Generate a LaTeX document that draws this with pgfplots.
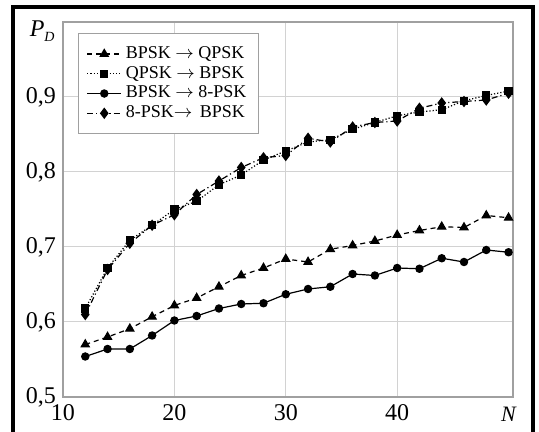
\documentclass[border=0pt]{standalone}
\usepackage{fontspec}
\setmainfont{Liberation Serif}
\usepackage{pgfplots}
\pgfplotsset{compat=1.18}
\definecolor{axgray}{HTML}{A0A0A0}
\definecolor{gridgray}{HTML}{D2D2D2}

\begin{document}
\begin{tikzpicture}
\begin{axis}[
  width=225pt, height=187.5pt, scale only axis,
  xmin=10, xmax=50.4, ymin=0.5, ymax=1.0,
  xtick={10,20,30,40}, ytick={0.5,0.6,0.7,0.8,0.9},
  major tick length=0pt,
  axis line style={axgray, line width=0.7pt},
  grid=major, grid style={gridgray, line width=0.5pt},
  tick label style={font=\fontsize{12}{13}\selectfont},
  /pgf/number format/.cd, use comma, fixed, fixed zerofill, precision=1, assume math mode=true,
  /pgfplots/.cd,
  xticklabel={\pgfmathprintnumber[precision=0,fixed zerofill=false]{\tick}},
  clip=false,
  legend cell align=left,
  legend style={at={(rel axis cs:0,1)}, anchor=north west, xshift=7.5pt, yshift=-5.5pt,
    draw=axgray, line width=0.6pt, font=\fontsize{9}{10}\selectfont,
    row sep=-1.6pt, inner xsep=4pt, inner ysep=4.5pt},
]
\addplot[black, line width=0.6pt, dash pattern=on 2.5pt off 2pt, mark=triangle*, mark size=2.3pt, mark options={solid}]
  coordinates {(12,0.570) (14,0.580) (16,0.591) (18,0.607) (20,0.622) (22,0.632) (24,0.647)
               (26,0.662) (28,0.672) (30,0.684) (32,0.680) (34,0.697) (36,0.702) (38,0.708)
               (40,0.716) (42,0.722) (44,0.727) (46,0.726) (48,0.742) (50,0.739)};
\addlegendentry{BPSK $\rightarrow$ QPSK}
\addplot[black, line width=0.6pt, densely dotted, mark=square*, mark size=1.8pt, mark options={solid}]
  coordinates {(12,0.618) (14,0.672) (16,0.709) (18,0.729) (20,0.750) (22,0.761) (24,0.783)
               (26,0.796) (28,0.816) (30,0.828) (32,0.840) (34,0.843) (36,0.857) (38,0.866)
               (40,0.875) (42,0.880) (44,0.883) (46,0.895) (48,0.902) (50,0.908)};
\addlegendentry{QPSK $\rightarrow$ BPSK}
\addplot[black, line width=0.6pt, mark=*, mark size=1.8pt]
  coordinates {(12,0.554) (14,0.564) (16,0.564) (18,0.582) (20,0.602) (22,0.608) (24,0.618)
               (26,0.624) (28,0.625) (30,0.637) (32,0.644) (34,0.647) (36,0.664) (38,0.662)
               (40,0.672) (42,0.671) (44,0.685) (46,0.680) (48,0.696) (50,0.693)};
\addlegendentry{BPSK $\rightarrow$ 8-PSK}
\addplot[black, line width=0.6pt, dash pattern=on 3pt off 1.5pt on 0.6pt off 1.5pt, mark=diamond*, mark size=2.4pt, mark options={solid}]
  coordinates {(12,0.610) (14,0.670) (16,0.705) (18,0.729) (20,0.743) (22,0.770) (24,0.788)
               (26,0.806) (28,0.819) (30,0.822) (32,0.845) (34,0.840) (36,0.860) (38,0.866)
               (40,0.868) (42,0.885) (44,0.892) (46,0.894) (48,0.896) (50,0.905)};
\addlegendentry{8-PSK$\rightarrow$\ \,BPSK}
\node[anchor=north east, inner sep=0pt, font=\fontsize{12}{12}\selectfont] at ([xshift=-4pt,yshift=1pt]rel axis cs:0,1)
  {\textit{P}\raisebox{-0.5ex}{\fontsize{7}{7}\selectfont\textit{D}}};
\node[anchor=north, inner sep=0pt, font=\fontsize{11}{12}\selectfont] at ([xshift=-2pt,yshift=-5pt]rel axis cs:1,0)
  {\textit{N}};
\end{axis}
\draw[line width=1.6pt] (-25pt,-30pt) -- (-25pt,195pt) -- (235pt,195pt) -- (235pt,-30pt);
\pgfresetboundingbox
\useasboundingbox (-31.5pt,-17.5pt) rectangle (238pt,198.5pt);
\end{tikzpicture}
\end{document}
